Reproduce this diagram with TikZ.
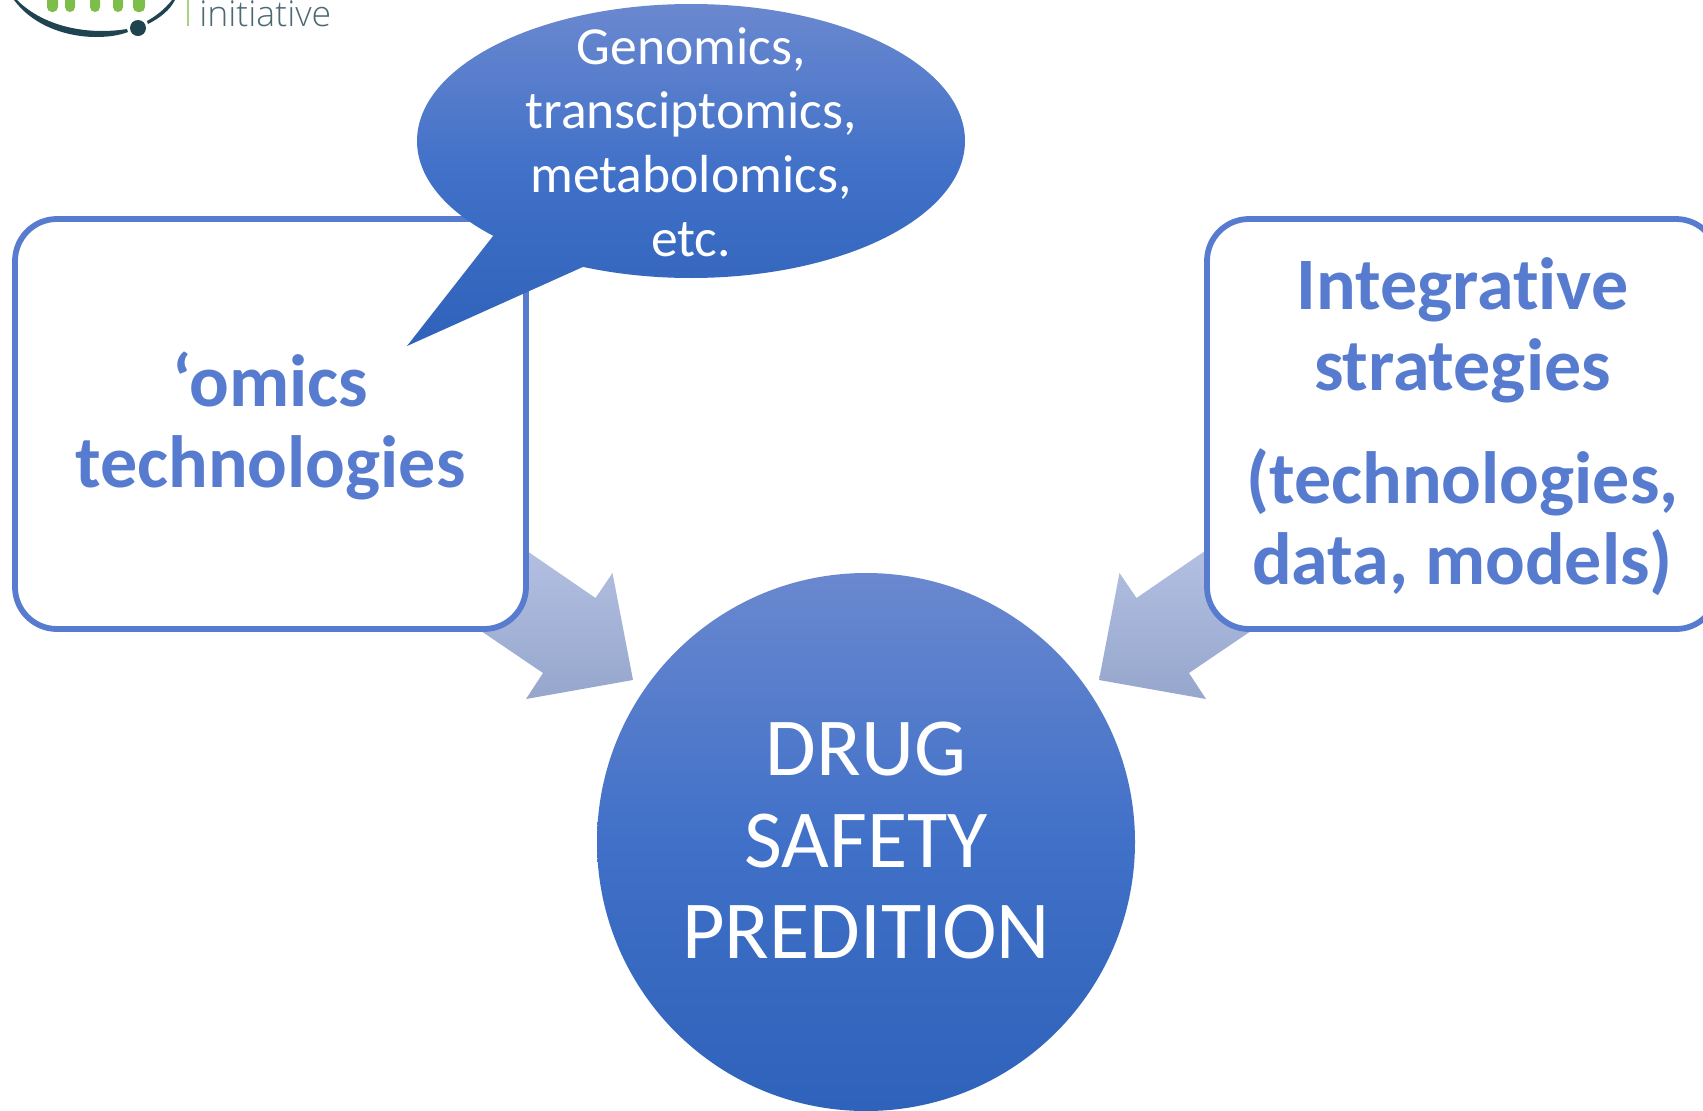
\documentclass[tikz,border=0pt]{standalone}
\usepackage{fontspec}
\setmainfont[Ligatures=NoCommon]{Carlito}
\newfontfamily\logofont{Open Sans Light}
\usetikzlibrary{positioning,calc,shapes.callouts}
\definecolor{boxblue}{HTML}{577CCF}
\definecolor{shadetop}{HTML}{6A88CF}
\definecolor{shademiddle}{HTML}{4070C8}
\definecolor{shadebottom}{HTML}{2F62BA}
\definecolor{arrowtop}{HTML}{B2BFE2}
\definecolor{arrowbottom}{HTML}{96A6CC}
\definecolor{logogreen}{HTML}{7DBE4A}
\definecolor{logodark}{HTML}{1F4450}
\begin{document}
\begin{tikzpicture}[
  x=0.5pt, y=-0.5pt,
  boxstyle/.style={
        draw=boxblue,
        line width=2.9pt,
        fill=white,
        rounded corners=21pt,
        minimum width=255.5pt,
        minimum height=205pt,
        outer sep=0pt,
        align=center,
        text=boxblue,
        font=\fontsize{37}{40.5}\selectfont\bfseries
  },
  bubblestyle/.style={
        ellipse callout,
        callout pointer arc=23,
        top color=shadetop,
        bottom color=shadebottom,
        middle color=shademiddle,
        draw=none,
        inner sep=0pt,
        minimum width=274pt,
        minimum height=137pt
  },
  bubbletext/.style={
        align=center,
        text=white,
        inner sep=0pt,
        font=\fontsize{26.8}{32}\selectfont
  },
  drugstyle/.style={
        circle,
        top color=shadetop,
        bottom color=shadebottom,
        middle color=shademiddle,
        minimum size=269pt,
        inner sep=0pt,
        outer sep=0pt,
        align=center,
        text=white,
        font=\fontsize{41.2}{45.7}\selectfont
  },
  arrowstyle/.style={
        top color=arrowtop,
        bottom color=arrowbottom
  },
  logobar/.style={
        fill=logogreen,
        rounded corners=2.5pt
  }
]

    \path[use as bounding box, clip] (0,0) rectangle (1703,1110);

    \fill[logobar] (47,-10) rectangle (58,12);
    \fill[logobar] (65,-10) rectangle (75,12);
    \fill[logobar] (90,-10) rectangle (100,12);
    \fill[logobar] (113,-10) rectangle (123,12);
    \fill[logobar] (133,-10) rectangle (145,12);
    \fill[logodark] (14,0) .. controls (35,28) and (70,37) .. (96,37) .. controls (110,37) and (120,35) .. (128,32) -- (127,29) .. controls (90,35) and (45,28) .. (17,0) -- cycle;
    \fill[logodark] (148,24) .. controls (160,18) and (170,10) .. (175,0) -- (172,0) .. controls (165,9) and (156,16) .. (147,21) -- cycle;
    \node[circle, fill=logodark, minimum size=8pt, inner sep=0pt] (logodot) at (138,28) {};
    \fill[logogreen!70!white] (187,0) rectangle (189,26);
    \node[anchor=base west, inner sep=0pt, text=logodark!80!white, font=\logofont\fontsize{17.8}{17}\selectfont] (logotext) at (199,26) {initiative};

    \node[drugstyle] (drug) at (866,842) {\raisebox{1.5pt}{DRUG}\\\raisebox{1.5pt}{SAFETY}\\\raisebox{1.5pt}{PREDITION}};
    \coordinate (omicsanchor) at (270.5,424);
    \coordinate (integrativeanchor) at (1462.5,424);

    \shade[arrowstyle] ($(omicsanchor)+(258,128)$) -- ($(omicsanchor)+(325,174)$) -- ($(omicsanchor)+(342,149)$) -- ($(drug.center)+(-233,-162)$) -- ($(drug.center)+(-340,-143)$) -- ($(drug.center)+(-323,-169)$) -- ($(omicsanchor)+(212,208)$) -- cycle;
    \shade[arrowstyle] ($(integrativeanchor)+(-259,128)$) -- ($(integrativeanchor)+(-326,174)$) -- ($(integrativeanchor)+(-343,149)$) -- ($(drug.center)+(233,-162)$) -- ($(drug.center)+(340,-143)$) -- ($(drug.center)+(323,-169)$) -- ($(integrativeanchor)+(-213,208)$) -- cycle;

    \node[boxstyle] (omics) at (omicsanchor) {\rule{0pt}{29pt}‘omics\\technologies};
    \node[boxstyle, right=340.5pt of omics] (integrative) {\rule{0pt}{29pt}Integrative\\strategies\\[16pt](technologies,\\data, models)};

    \coordinate (bubbletip) at (407,346);
    \node[bubblestyle, callout absolute pointer={(bubbletip)}] (bubble) at (691,141) {};
    \node[bubbletext] (bubblelabel) at ([yshift=-0.6pt]bubble.center) {Genomics,\\transciptomics,\\metabolomics,\\etc.};

\end{tikzpicture}
\end{document}
